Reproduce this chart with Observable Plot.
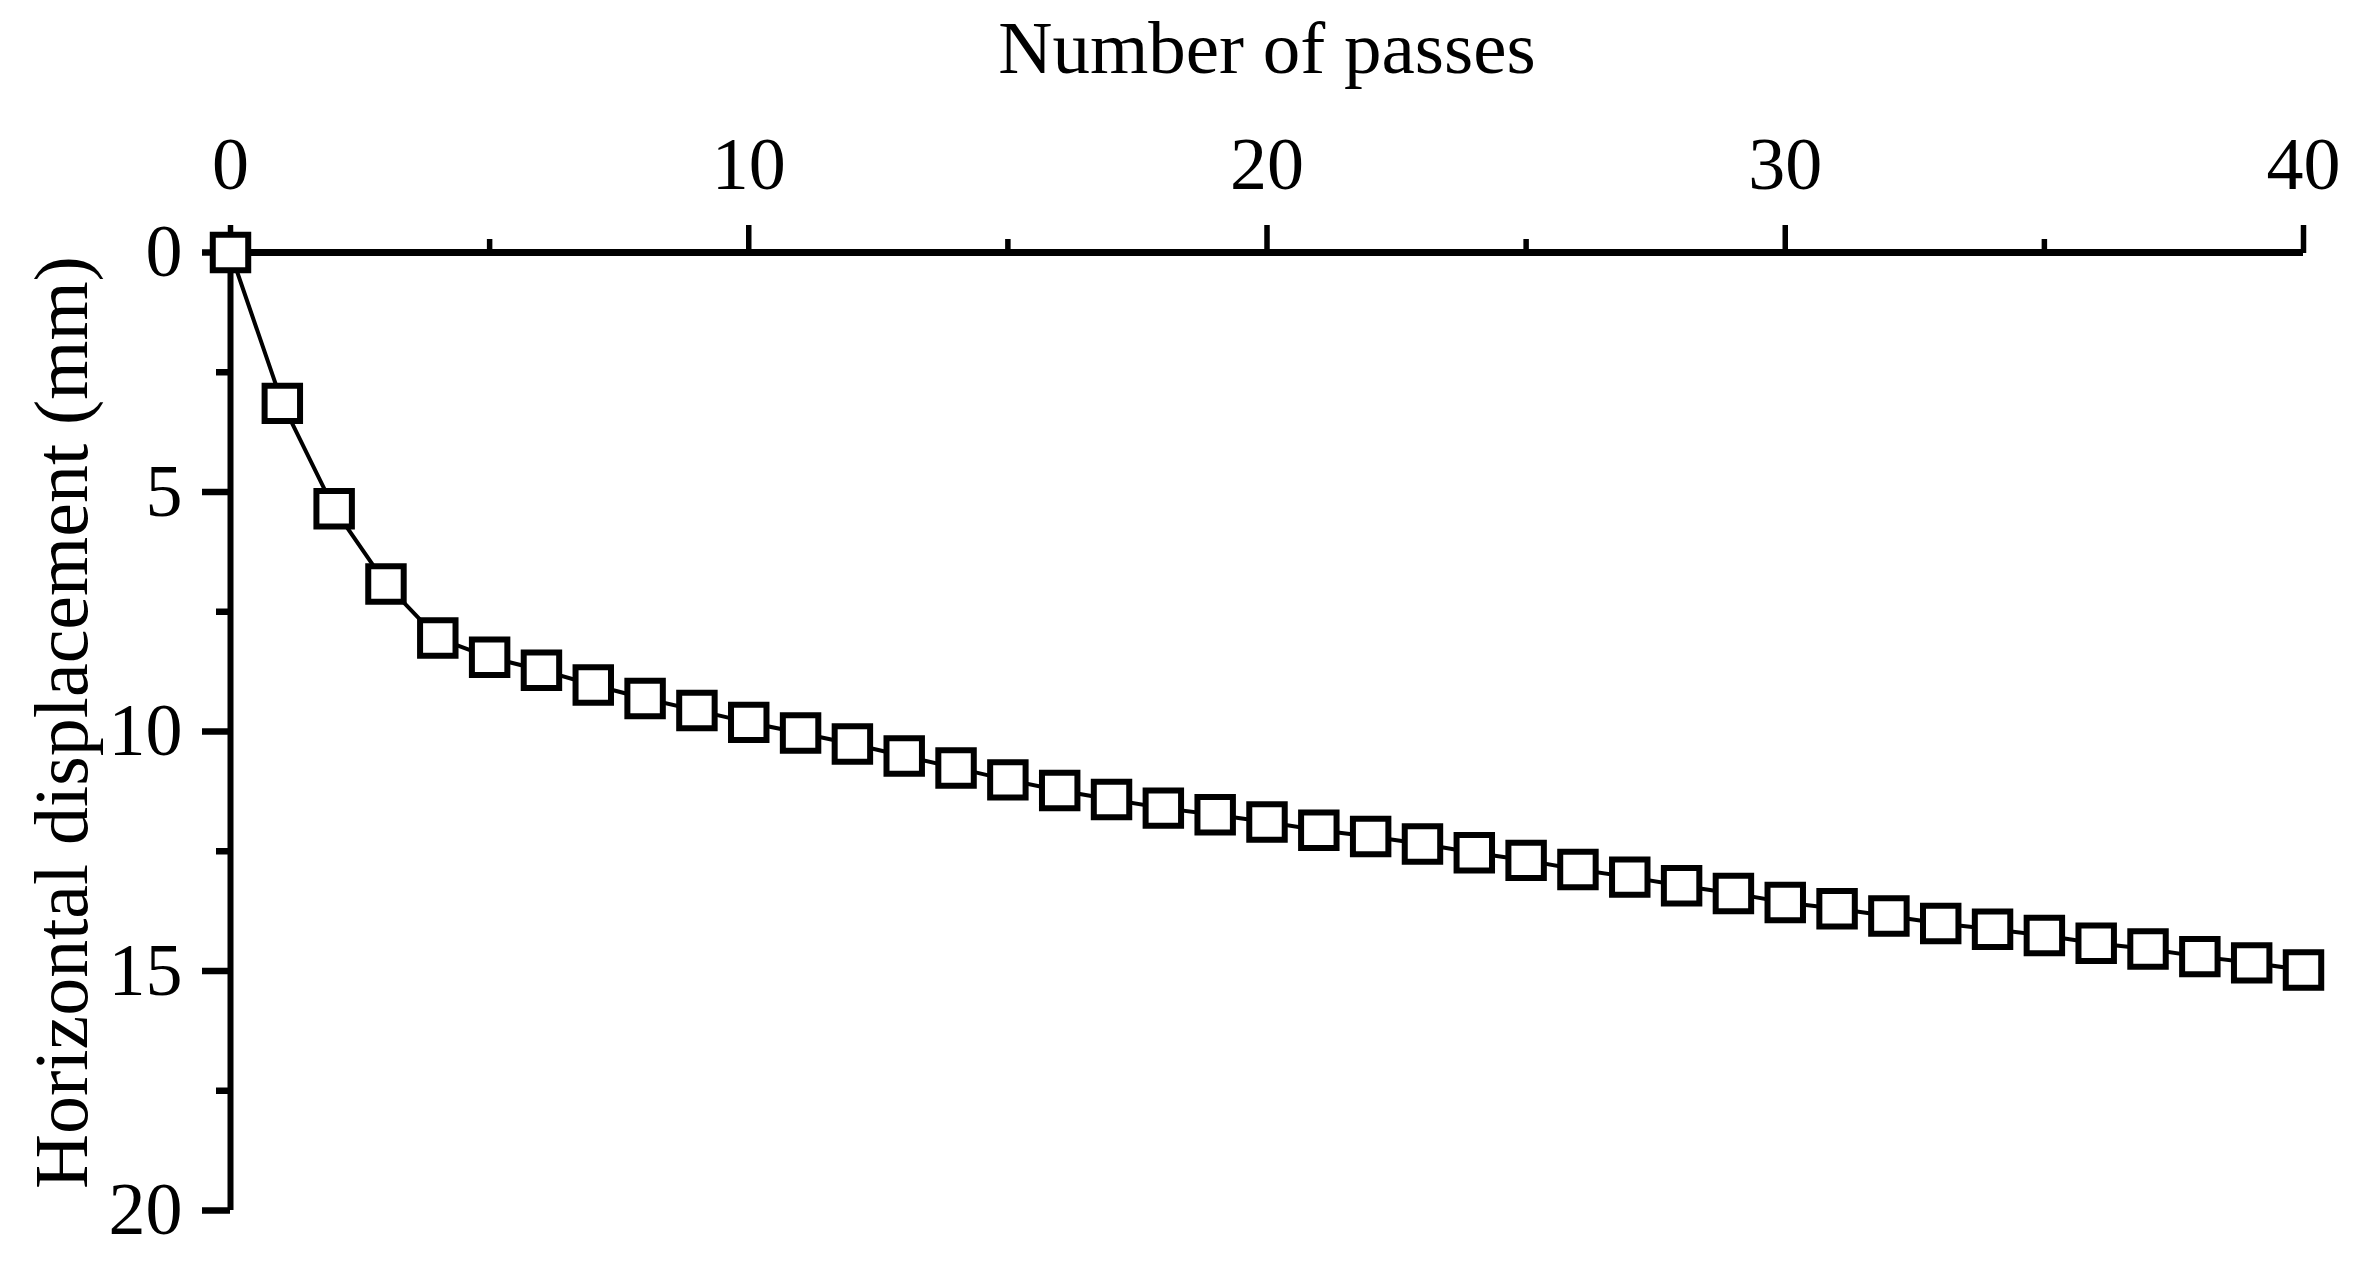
<!DOCTYPE html>
<html>
<head>
<meta charset="utf-8">
<script src="https://cdn.jsdelivr.net/npm/d3@7"></script>
<script src="https://cdn.jsdelivr.net/npm/@observablehq/plot@0.6"></script>
<style>
  html, body { margin: 0; padding: 0; background: #fff; }
</style>
</head>
<body>
<div id="chart"></div>
<script>
const passes = [0, 1, 2, 3, 4, 5, 6, 7, 8, 9, 10, 11, 12, 13, 14, 15, 16, 17, 18, 19, 20,
  21, 22, 23, 24, 25, 26, 27, 28, 29, 30, 31, 32, 33, 34, 35, 36, 37, 38, 39, 40];
const displacement = [0, 3.15, 5.35, 6.92, 8.05, 8.45, 8.72, 9.03, 9.31, 9.56, 9.81,
  10.03, 10.26, 10.51, 10.76, 11.01, 11.23, 11.42, 11.60, 11.74, 11.89,
  12.06, 12.19, 12.35, 12.53, 12.69, 12.88, 13.04, 13.22, 13.38, 13.57,
  13.70, 13.85, 14.01, 14.13, 14.26, 14.42, 14.54, 14.70, 14.83, 14.98];
const xTicks = [0, 10, 20, 30, 40];
const xMinorTicks = [5, 15, 25, 35];
const yTicks = [0, 5, 10, 15, 20];
const yMinorTicks = [2.5, 7.5, 12.5, 17.5];
const xLabel = "Number of passes";
const yLabel = "Horizontal displacement (mm)";

const data = passes.map((p, i) => ({passes: p, disp: displacement[i]}));

const W = 2357, H = 1266;
const mL = 230, mR = 54, mT = 252, mB = 56;

const chart = Plot.plot({
  width: W,
  height: H,
  marginLeft: mL,
  marginRight: mR,
  marginTop: mT,
  marginBottom: mB,
  style: {fontFamily: "'Liberation Serif', 'Times New Roman', serif", fontSize: "74px", background: "#fff", color: "#000"},
  x: {domain: [0, 40]},
  y: {domain: [0, 20], reverse: true},
  marks: [
    Plot.axisX(xTicks, {anchor: "top", tickSize: 28, tickPadding: 36, strokeWidth: 5.5, fontSize: 74, label: null, tickFormat: d => String(d)}),
    Plot.axisX(xMinorTicks, {anchor: "top", tickSize: 14, strokeWidth: 5.5, label: null, tickFormat: () => ""}),
    Plot.axisY(yTicks, {anchor: "left", tickSize: 28, tickPadding: 20, strokeWidth: 6.5, fontSize: 74, label: null, tickFormat: d => String(d)}),
    Plot.axisY(yMinorTicks, {anchor: "left", tickSize: 14, strokeWidth: 6.5, label: null, tickFormat: () => ""}),
    Plot.ruleY([0], {x1: 0, x2: 40, stroke: "#000", strokeWidth: 7}),
    Plot.ruleX([0], {y1: 0, y2: 20, stroke: "#000", strokeWidth: 6}),
    Plot.text([xLabel], {frameAnchor: "top", text: d => d, dy: -(mT - 72), lineAnchor: "bottom", textAnchor: "middle", fontSize: 75, fill: "#000"}),
    Plot.text([yLabel], {frameAnchor: "left", text: d => d, rotate: -90, dx: -(mL - 86), dy: -9, lineAnchor: "bottom", textAnchor: "middle", fontSize: 76, fill: "#000"}),
    Plot.line(data, {x: "passes", y: "disp", stroke: "#000", strokeWidth: 4}),
    Plot.dot(data, {x: "passes", y: "disp", symbol: "square", r: 20, fill: "#fff", stroke: "#000", strokeWidth: 6})
  ]
});
document.getElementById("chart").appendChild(chart);
</script>
</body>
</html>
